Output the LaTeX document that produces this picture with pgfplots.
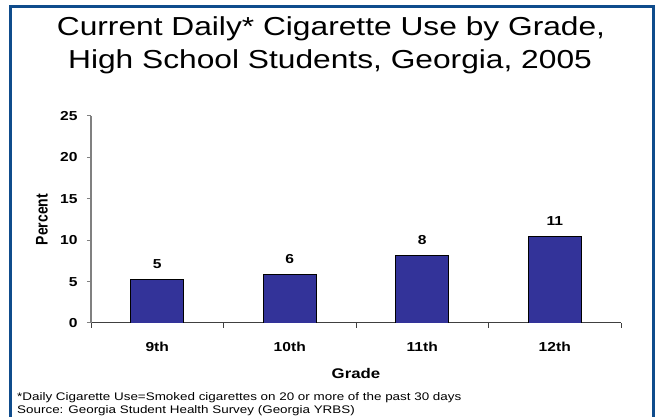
\documentclass[border=0pt]{standalone}
\usepackage{fontspec}
\setmainfont{Liberation Sans}
\usepackage{pgfplots}
\pgfplotsset{compat=1.18}
\usepackage{graphicx}
\definecolor{barblue}{HTML}{333399}
\definecolor{frameblue}{HTML}{0F4C8C}
\definecolor{axgray}{HTML}{808080}
\definecolor{axdark}{HTML}{404040}
\newcommand\sx[1]{\scalebox{1.2}[1]{#1}}
\newcommand\tx[1]{\scalebox{1.22}[1]{#1}}
\newcommand\tf{\fontsize{13}{15}\selectfont\bfseries}
\begin{document}
\begin{tikzpicture}[x=1pt,y=1pt]
\useasboundingbox (0,0) rectangle (659,417);
\fill[white] (0,0) rectangle (659,417);
\begin{scope}
\clip (0,0) rectangle (659,417);
\draw[frameblue, line width=3pt] (10.5,-10) -- (10.5,410) -- (653,410) -- (653,-10);
\end{scope}
\node[anchor=base, inner sep=0] at (331,381) {\fontsize{26}{31}\selectfont\tx{Current Daily* Cigarette Use by Grade,}};
\node[anchor=base, inner sep=0] at (330,348) {\fontsize{26}{31}\selectfont\tx{High School Students, Georgia, 2005}};
\node[anchor=base west, inner sep=0] at (17,16.3) {\fontsize{11}{12}\selectfont\tx{*Daily Cigarette Use=Smoked cigarettes on 20 or more of the past 30 days}};
\node[anchor=base west, inner sep=0] at (17,3.7) {\fontsize{11}{12}\selectfont\tx{Source: Georgia Student Health Survey (Georgia YRBS)}};
\begin{axis}[
  at={(91pt,94pt)}, anchor=south west, scale only axis,
  width=530pt, height=207pt,
  xmin=-0.5, xmax=3.5, ymin=0, ymax=25,
  ybar, bar width=53pt,
  axis x line=bottom, axis y line=left,
  x axis line style={-, axdark, line width=1pt},
  y axis line style={-, axgray, line width=1.3pt},
  tick align=outside,
  major tick length=4pt, minor tick length=5pt,
  ytick={0,5,10,15,20,25},
  yticklabels={\sx{0},\sx{5},\sx{10},\sx{15},\sx{20},\sx{25}},
  xtick={0,1,2,3},
  xticklabels={\sx{9th},\sx{10th},\sx{11th},\sx{12th}},
  minor xtick={-0.5,0.5,1.5,2.5,3.5},
  major x tick style={draw=none},
  minor x tick style={axdark, line width=0.8pt},
  major y tick style={axgray, line width=1pt},
  ticklabel style={font=\tf},
  yticklabel style={xshift=-6pt},
  xticklabel style={anchor=base, yshift=-25pt},
  every axis y label/.style={at={(axis description cs:0,0.5)}, anchor=center, xshift=-49pt, rotate=90},
  every axis x label/.style={at={(axis description cs:0.5,0)}, anchor=base, yshift=-56pt},
  ylabel={\fontsize{14}{16}\selectfont\bfseries\scalebox{1}[1.2]{Percent}},
  xlabel={\fontsize{14}{16}\selectfont\bfseries\sx{Grade}},
  point meta=explicit symbolic,
  nodes near coords={\tf\sx{\pgfplotspointmeta}},
  nodes near coords style={anchor=base, yshift=11pt, inner sep=0},
]
\addplot[fill=barblue, draw=black, line width=0.6pt] coordinates {(0,5.28)[5] (1,5.88)[6] (2,8.2)[8] (3,10.5)[11]};
\end{axis}
\end{tikzpicture}
\end{document}
